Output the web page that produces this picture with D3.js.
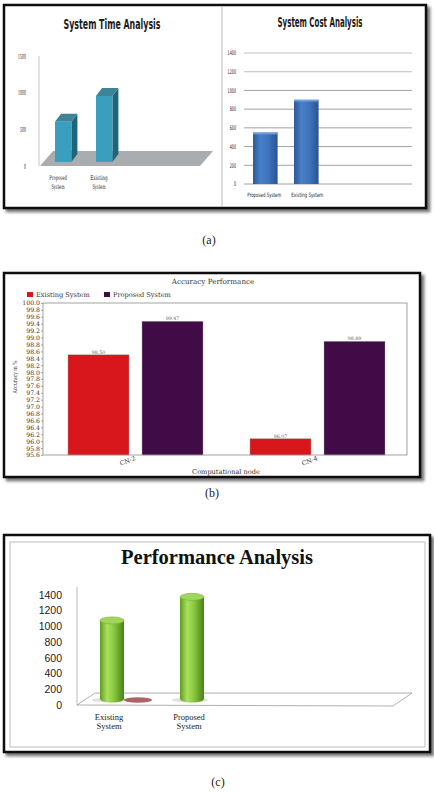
<!DOCTYPE html>
<html>
<head>
<meta charset="utf-8">
<script src="https://cdn.jsdelivr.net/npm/d3@7"></script>
<style>
  body { margin: 0; background: #fff; }
  svg { display: block; }
</style>
</head>
<body>
<div id="container"></div>
<script>
/* CONSTANTS AND GLOBALS */
const width = 434;
const height = 792;
const condensed = "'DejaVu Sans Condensed', 'DejaVu Sans', sans-serif";
const condSerif = "'DejaVu Serif Condensed', 'DejaVu Serif', serif";
const serif = "'Liberation Serif', 'Times New Roman', serif";

/* DATA */
const timeCats = ["Proposed System", "Existing System"];
const timeValues = [550, 900];
const timeTicks = [0, 500, 1000, 1500];

const costCats = ["Proposed System", "Existing System"];
const costValues = [550, 900];
const costTicks = [0, 200, 400, 600, 800, 1000, 1200, 1400];

const accCats = ["CN-2", "CN-4"];
const accSeries = ["Existing System", "Proposed System"];
const accExisting = [98.50, 96.07];
const accProposed = [99.47, 98.89];
const accColors = ["#d8171c", "#400b47"];

const perfCats = ["Existing System", "Proposed System"];
const perfValues = [1000, 1300];
const perfOther = [0, null];
const perfTicks = [0, 200, 400, 600, 800, 1000, 1200, 1400];

const captions = ["(a)", "(b)", "(c)"];

const svg = d3.select("#container").append("svg")
  .attr("width", width)
  .attr("height", height);

/* DEFS */
const defs = svg.append("defs");
defs.append("filter").attr("id", "shadow")
  .attr("x", "-5%").attr("y", "-5%").attr("width", "112%").attr("height", "115%")
  .append("feDropShadow")
  .attr("dx", 3).attr("dy", 3).attr("stdDeviation", 1.6)
  .attr("flood-color", "#000").attr("flood-opacity", 0.55);

function hGrad(id, stops) {
  const g = defs.append("linearGradient").attr("id", id)
    .attr("x1", "0%").attr("x2", "100%").attr("y1", "0%").attr("y2", "0%");
  stops.forEach(s => g.append("stop").attr("offset", s[0]).attr("stop-color", s[1]));
}
hGrad("blueGrad", [["0%", "#2c5896"], ["30%", "#4a80c8"], ["65%", "#3d72bb"], ["100%", "#2a5390"]]);
hGrad("greenGrad", [["0%", "#5f9b22"], ["30%", "#a8e25e"], ["55%", "#8dcc44"], ["100%", "#4a8216"]]);

// squeeze a text horizontally to a given width (keeps glyph box honest)
function squeeze(sel, cx, y, target) {
  sel.each(function (d, i) {
    const t = typeof target === "function" ? target(d, i) : target;
    const n = this.getComputedTextLength();
    const k = n > 0 ? t / n : 1;
    const x = typeof cx === "function" ? cx(d, i) : cx;
    const yy = typeof y === "function" ? y(d, i) : y;
    d3.select(this).attr("x", 0).attr("y", 0)
      .attr("transform", `translate(${x},${yy}) scale(${k},1)`);
  });
}

/* FRAMES */
function frame(x, y, w, h) {
  svg.append("rect")
    .attr("x", x).attr("y", y).attr("width", w).attr("height", h)
    .attr("fill", "#fff").attr("stroke", "#111").attr("stroke-width", 2.5)
    .attr("filter", "url(#shadow)");
}
frame(4, 5, 422, 203);
frame(4, 273, 416, 204);
frame(4, 535, 426, 217);

svg.append("line")
  .attr("x1", 222).attr("x2", 222).attr("y1", 7).attr("y2", 206)
  .attr("stroke", "#d0d0d0").attr("stroke-width", 1.5);

/* (a) LEFT: SYSTEM TIME ANALYSIS */
const yT = d3.scaleLinear().domain([0, 1500]).range([166, 56]);
const xT = d3.scaleBand().domain(timeCats).range([42.7, 124.7])
  .paddingInner(0.6).paddingOuter(0.3);

svg.append("text")
  .attr("x", 112).attr("y", 29).attr("text-anchor", "middle")
  .attr("font-family", condensed).attr("font-weight", "bold").attr("font-size", 14)
  .attr("textLength", 97).attr("lengthAdjust", "spacingAndGlyphs")
  .attr("fill", "#1a1a1a")
  .text("System Time Analysis");

svg.append("line")
  .attr("x1", 39).attr("x2", 39).attr("y1", yT(1500)).attr("y2", yT(0))
  .attr("stroke", "#b5b5b5").attr("stroke-width", 0.8);

// 3D floor
svg.append("polygon")
  .attr("points", [[40, yT(0)], [53, yT(0) - 15], [213, yT(0) - 15], [200, yT(0)]].join(" "))
  .attr("fill", "#a9adb0");

svg.selectAll("text.tickT")
  .data(timeTicks)
  .join("text")
  .attr("class", "tickT")
  .attr("text-anchor", "end")
  .attr("font-family", condSerif).attr("font-size", 7)
  .attr("fill", "#222")
  .text(d => d)
  .call(squeeze, 26, d => yT(d) + 2.5, d => String(d).length * 2);

const dx3 = 6, dy3 = -8;
const timeBars = svg.selectAll("g.barT")
  .data(timeCats.map((c, i) => ({ c, v: timeValues[i] })))
  .join("g").attr("class", "barT");
timeBars.each(function (d) {
  const g = d3.select(this);
  const x0 = xT(d.c), w = xT.bandwidth();
  const yTop = yT(d.v) - 4, yBot = yT(0) - 4;
  g.append("polygon")
    .attr("points", [[x0 + w, yBot], [x0 + w + dx3, yBot + dy3], [x0 + w + dx3, yTop + dy3], [x0 + w, yTop]].join(" "))
    .attr("fill", "#1f6478");
  g.append("polygon")
    .attr("points", [[x0, yTop], [x0 + dx3, yTop + dy3], [x0 + w + dx3, yTop + dy3], [x0 + w, yTop]].join(" "))
    .attr("fill", "#3e8499");
  g.append("rect")
    .attr("x", x0).attr("y", yTop).attr("width", w).attr("height", yBot - yTop)
    .attr("fill", "#3a9fbf");
});

timeCats.forEach(c => {
  c.split(" ").forEach((word, j) => {
    svg.append("text")
      .attr("text-anchor", "middle")
      .attr("font-family", condSerif).attr("font-size", 6.5)
      .attr("fill", "#222")
      .text(word)
      .call(squeeze, xT(c) + 3, 180 + j * 9, word.length * 2.2);
  });
});

/* (a) RIGHT: SYSTEM COST ANALYSIS */
const yC = d3.scaleLinear().domain([0, 1400]).range([184, 53]);
const xC = d3.scaleBand().domain(costCats).range([244, 327.6])
  .paddingInner(0.4).paddingOuter(0.22);

svg.append("text")
  .attr("x", 320).attr("y", 27).attr("text-anchor", "middle")
  .attr("font-family", condensed).attr("font-weight", "bold").attr("font-size", 14)
  .attr("textLength", 85).attr("lengthAdjust", "spacingAndGlyphs")
  .attr("fill", "#1a1a1a")
  .text("System Cost Analysis");

svg.selectAll("line.gridC")
  .data(costTicks)
  .join("line")
  .attr("class", "gridC")
  .attr("x1", 244).attr("x2", 412)
  .attr("y1", d => yC(d)).attr("y2", d => yC(d))
  .attr("stroke", d => d >= 1200 ? "#b0b0b0" : "#8a8a8a").attr("stroke-width", 0.8);

svg.selectAll("text.tickC")
  .data(costTicks)
  .join("text")
  .attr("class", "tickC")
  .attr("text-anchor", "end")
  .attr("font-family", condensed).attr("font-size", 6.3)
  .attr("fill", "#222")
  .text(d => d)
  .call(squeeze, 236, d => yC(d) + 2.3, d => String(d).length * 2.1);

svg.selectAll("rect.barC")
  .data(costCats.map((c, i) => ({ c, v: costValues[i] })))
  .join("rect")
  .attr("class", "barC")
  .attr("x", d => xC(d.c)).attr("y", d => yC(d.v))
  .attr("width", xC.bandwidth()).attr("height", d => yC(0) - yC(d.v))
  .attr("fill", "url(#blueGrad)");
svg.selectAll("rect.barCtop")
  .data(costCats.map((c, i) => ({ c, v: costValues[i] })))
  .join("rect")
  .attr("class", "barCtop")
  .attr("x", d => xC(d.c)).attr("y", d => yC(d.v))
  .attr("width", xC.bandwidth()).attr("height", 1.8)
  .attr("fill", "#6f9ddb");

svg.selectAll("text.catC")
  .data(costCats)
  .join("text")
  .attr("class", "catC")
  .attr("text-anchor", "middle")
  .attr("font-family", condensed).attr("font-size", 6)
  .attr("fill", "#222")
  .text(d => d)
  .call(squeeze, d => xC(d) + xC.bandwidth() / 2 + (d === costCats[0] ? -1 : 1), 197, (d, i) => [34, 32][i]);

/* (b) ACCURACY PERFORMANCE */
const yB = d3.scaleLinear().domain([95.6, 100]).range([455, 303]);
const xB0 = d3.scaleBand().domain(accCats).range([43, 407]);
const xB1 = d3.scaleBand().domain(accSeries).range([25, 160]).paddingInner(0.176);
const accData = accCats.map((c, i) => ({ c, values: [accExisting[i], accProposed[i]] }));

svg.append("text")
  .attr("x", 213).attr("y", 284).attr("text-anchor", "middle")
  .attr("font-family", "'DejaVu Serif', serif").attr("font-size", 7.2)
  .attr("fill", "#333")
  .text("Accuracy Performance");

accSeries.forEach((s, i) => {
  const lx = [27, 104][i];
  svg.append("rect").attr("x", lx).attr("y", 292).attr("width", 6).attr("height", 5)
    .attr("fill", accColors[i]);
  svg.append("text").attr("x", lx + 9).attr("y", 297.3)
    .attr("font-family", "'DejaVu Serif', serif").attr("font-size", 6.6)
    .attr("fill", "#333").text(s);
});

const groups = svg.selectAll("g.accGroup")
  .data(accData)
  .join("g")
  .attr("class", "accGroup")
  .attr("transform", d => `translate(${xB0(d.c)},0)`);
groups.selectAll("rect")
  .data(d => d.values.map((v, i) => ({ s: accSeries[i], v, i })))
  .join("rect")
  .attr("x", d => xB1(d.s)).attr("y", d => yB(d.v))
  .attr("width", xB1.bandwidth()).attr("height", d => yB(95.6) - yB(d.v))
  .attr("fill", d => accColors[d.i])
  .attr("stroke", "#9a9a9a").attr("stroke-width", 0.4);
groups.selectAll("text")
  .data(d => d.values.map((v, i) => ({ s: accSeries[i], v })))
  .join("text")
  .attr("x", d => xB1(d.s) + xB1.bandwidth() / 2).attr("y", d => yB(d.v) - 1.2)
  .attr("text-anchor", "middle")
  .attr("font-family", "'DejaVu Serif', serif").attr("font-size", 4.8)
  .attr("fill", "#666")
  .text(d => d3.format(".2f")(d.v));

svg.append("rect")
  .attr("x", 43).attr("y", 303).attr("width", 364).attr("height", 152)
  .attr("fill", "none").attr("stroke", "#8c8c8c").attr("stroke-width", 0.8);

const yAxisB = svg.append("g")
  .attr("transform", "translate(43,0)")
  .call(d3.axisLeft(yB).ticks(22).tickFormat(d3.format(".1f")).tickSize(2).tickPadding(1));
yAxisB.select(".domain").remove();
yAxisB.selectAll("line").attr("stroke", "#777").attr("stroke-width", 0.6);
yAxisB.selectAll("text")
  .attr("font-family", "'DejaVu Serif', serif").attr("font-size", 6.2).attr("fill", "#333");

svg.selectAll("text.catB")
  .data(accCats)
  .join("text")
  .attr("class", "catB")
  .attr("text-anchor", "end")
  .attr("transform", d => `translate(${xB0(d) + xB0.bandwidth() / 2 + 2},460) rotate(-20)`)
  .attr("font-family", "'DejaVu Serif', serif").attr("font-size", 6.2)
  .attr("fill", "#333")
  .text(d => d);

svg.append("text")
  .attr("x", 226).attr("y", 473.5).attr("text-anchor", "middle")
  .attr("font-family", "'DejaVu Serif', serif").attr("font-size", 6.6)
  .attr("fill", "#333")
  .text("Computational node");

svg.append("text")
  .attr("transform", "translate(17,377) rotate(-90)")
  .attr("text-anchor", "middle")
  .attr("font-family", "'DejaVu Serif', serif").attr("font-size", 6)
  .attr("textLength", 33).attr("lengthAdjust", "spacingAndGlyphs")
  .attr("fill", "#333")
  .text("Accuracy in %");

/* (c) PERFORMANCE ANALYSIS */
svg.append("rect")
  .attr("x", 10).attr("y", 542).attr("width", 415).attr("height", 205)
  .attr("fill", "none").attr("stroke", "#bdbdbd").attr("stroke-width", 1);

const yP = d3.scaleLinear().domain([0, 1400]).range([705, 595]);
const xP = d3.scaleBand().domain(perfCats).range([77, 227])
  .paddingInner(0.7).paddingOuter(0.2875);

svg.append("text")
  .attr("x", 217).attr("y", 564).attr("text-anchor", "middle")
  .attr("font-family", serif).attr("font-weight", "bold").attr("font-size", 20)
  .attr("textLength", 192).attr("lengthAdjust", "spacingAndGlyphs")
  .attr("fill", "#111")
  .text("Performance Analysis");

svg.selectAll("text.tickP")
  .data(perfTicks)
  .join("text")
  .attr("class", "tickP")
  .attr("x", 62).attr("y", d => yP(d) + 3.7)
  .attr("text-anchor", "end")
  .attr("font-family", "'Liberation Sans', Arial, sans-serif").attr("font-size", 10.5)
  .attr("fill", "#222")
  .text(d => d);

svg.append("line")
  .attr("x1", 77).attr("x2", 77).attr("y1", 587).attr("y2", yP(0))
  .attr("stroke", "#aaa").attr("stroke-width", 0.8);
svg.append("polygon")
  .attr("points", [[77, yP(0)], [95, yP(0) - 12], [412, yP(0) - 12], [393, yP(0) + 1]].join(" "))
  .attr("fill", "none").attr("stroke", "#9a9a9a").attr("stroke-width", 0.8);

const rxP = xP.bandwidth() / 2, ryP = 3.5;
const baseP = yP(0) - 6;
perfCats.forEach((c, i) => {
  const cx = xP(c) + rxP;
  const x0 = xP(c), x1 = xP(c) + xP.bandwidth();
  const top = yP(perfValues[i]) - 6;
  // base shadow
  svg.append("ellipse")
    .attr("cx", cx - 2).attr("cy", baseP + 1).attr("rx", rxP + 6).attr("ry", 2.5)
    .attr("fill", "#000").attr("opacity", 0.12);
  if (perfOther[i] !== null) {
    svg.append("ellipse")
      .attr("cx", x1 + rxP + 2).attr("cy", yP(perfOther[i]) - 5).attr("rx", rxP + 2).attr("ry", 2.8)
      .attr("fill", "#9c4a4a").attr("opacity", 0.85);
  }
  svg.append("path")
    .attr("d", `M${x0},${top} L${x0},${baseP} A${rxP},${ryP} 0 0 0 ${x1},${baseP} L${x1},${top} Z`)
    .attr("fill", "url(#greenGrad)");
  svg.append("ellipse")
    .attr("cx", cx).attr("cy", top).attr("rx", rxP).attr("ry", ryP)
    .attr("fill", "#a0d65c").attr("stroke", "#78b036").attr("stroke-width", 0.6);

  c.split(" ").forEach((word, j) => {
    svg.append("text")
      .attr("x", cx - 3).attr("y", 720 + j * 9)
      .attr("text-anchor", "middle")
      .attr("font-family", serif).attr("font-size", 8.5)
      .attr("fill", "#222")
      .text(word);
  });
});

/* CAPTIONS */
const capPos = [[209, 244], [212, 497], [218, 786]];
svg.selectAll("text.caption")
  .data(captions)
  .join("text")
  .attr("class", "caption")
  .attr("x", (d, i) => capPos[i][0]).attr("y", (d, i) => capPos[i][1])
  .attr("text-anchor", "middle")
  .attr("font-family", serif).attr("font-size", 12)
  .attr("fill", "#222")
  .text(d => d);
</script>
</body>
</html>
